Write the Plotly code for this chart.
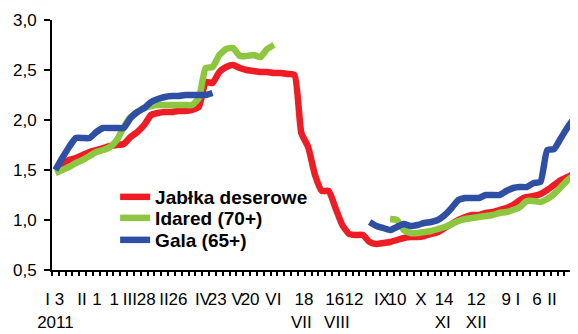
import plotly.graph_objects as go

# ---- data (weekly observations, index 0..76) ----
n_points = 77
jablka = [1.50, 1.56, 1.60, 1.62, 1.65, 1.68, 1.70, 1.72, 1.74, 1.75,
          1.76, 1.83, 1.88, 1.95, 2.05, 2.07, 2.08, 2.08, 2.09, 2.09,
          2.10, 2.13, 2.38, 2.37, 2.48, 2.53, 2.55, 2.52, 2.50, 2.49,
          2.48, 2.48, 2.47, 2.47, 2.46, 2.45, 1.87, 1.73, 1.45, 1.29,
          1.29, 1.12, 0.95, 0.86, 0.85, 0.85, 0.78, 0.76, 0.77, 0.78,
          0.80, 0.82, 0.83, 0.83, 0.84, 0.86, 0.88, 0.92, 0.96, 1.00,
          1.03, 1.05, 1.05, 1.07, 1.08, 1.10, 1.12, 1.15, 1.20, 1.23,
          1.24, 1.26, 1.30, 1.35, 1.40, 1.43, 1.47]
idared = [1.47, 1.50, 1.53, 1.57, 1.60, 1.64, 1.68, 1.70, 1.73, 1.80,
          1.93, 2.03, 2.08, 2.12, 2.14, 2.15, 2.15, 2.15, 2.15, 2.15,
          2.15, 2.22, 2.52, 2.53, 2.65, 2.71, 2.72, 2.64, 2.64, 2.65,
          2.63, 2.71, 2.75, None, None, None, None, None, None, None,
          None, None, None, None, None, None, None, None, None, 1.01,
          1.00, 0.90, 0.87, 0.87, 0.88, 0.89, 0.91, 0.93, 0.96, 0.99,
          1.01, 1.02, 1.03, 1.04, 1.05, 1.07, 1.08, 1.10, 1.13, 1.19,
          1.19, 1.18, 1.21, 1.26, 1.33, 1.40, 1.45]
gala = [1.50, 1.62, 1.73, 1.82, 1.82, 1.82, 1.88, 1.92, 1.92, 1.92,
        1.92, 2.02, 2.08, 2.12, 2.18, 2.21, 2.23, 2.24, 2.24, 2.25,
        2.25, 2.25, 2.25, 2.27, None, None, None, None, None, None,
        None, None, None, None, None, None, None, None, None, None,
        None, None, None, None, None, None, 0.98, 0.94, 0.92, 0.90,
        0.93, 0.96, 0.94, 0.95, 0.97, 0.98, 1.00, 1.05, 1.12, 1.20,
        1.22, 1.22, 1.22, 1.25, 1.25, 1.25, 1.29, 1.32, 1.33, 1.33,
        1.37, 1.38, 1.70, 1.71, 1.82, 1.93, 2.02]

series_names = ["Jabłka deserowe", "Idared (70+)", "Gala (65+)"]

# tick labels (two rows, as they appear under the axis)
row1_pos = [-0.1, 3.9, 6.1, 8.6, 10.9, 13.3, 15.9, 17.95, 21.6, 23.7,
            26.6, 28.5, 31.9, 36.4, 40.9, 43.7, 47.8, 50.0, 53.5, 56.9,
            61.6, 66.0, 67.7, 70.5, 72.7]
row1_text = ["I 3", "II", "1", "1", "III", "28", "II", "26", "IV", "23",
             "V", "20", "VI", "18", "16", "12", "IX", "10", "X", "14",
             "12", "9", "I", "6", "II"]
row2_pos = [0.0, 36.0, 41.2, 56.7, 61.6]
row2_text = ["2011", "VII", "VIII", "XI", "XII"]

y_ticks = [0.5, 1.0, 1.5, 2.0, 2.5, 3.0]

colors = ["#EE1D25", "#8DC63F", "#2E4FA3"]
legend_ids = ["legend", "legend2", "legend3"]

x = list(range(n_points))
fig = go.Figure()
for name, vals, col, lg in zip(series_names, [jablka, idared, gala], colors, legend_ids):
    fig.add_trace(go.Scatter(
        x=x, y=vals, name=name, mode="lines", legend=lg,
        line=dict(color=col, width=6.5, shape="spline", smoothing=0.5),
        connectgaps=False,
    ))

# invisible helpers so the label axes are drawn
fig.add_trace(go.Scatter(x=[0], y=[None], xaxis="x2", showlegend=False, hoverinfo="skip"))
fig.add_trace(go.Scatter(x=[0], y=[None], xaxis="x3", showlegend=False, hoverinfo="skip"))

xr = [-0.5, n_points - 0.5]
font_family = "Liberation Sans, Arial, sans-serif"


def legend_box(ypos):
    return dict(
        x=0.12, y=ypos, xanchor="left", yanchor="middle",
        bgcolor="rgba(0,0,0,0)", borderwidth=0,
        font=dict(family=font_family, size=19, color="black", weight="bold"),
        itemwidth=30,
    )


fig.update_layout(
    width=570, height=326,
    margin=dict(l=44, r=0, t=12, b=64),
    paper_bgcolor="white", plot_bgcolor="white",
    separators=", ",
    font=dict(family=font_family, size=17, color="black"),
    showlegend=True,
    legend=legend_box(0.292),
    legend2=legend_box(0.208),
    legend3=legend_box(0.12),
    xaxis=dict(
        range=xr, showgrid=False, zeroline=False, automargin=False,
        showline=True, linecolor="black", linewidth=2,
        ticks="outside", ticklen=4, tickwidth=1.5, tickcolor="black",
        tickmode="linear", tick0=-0.5, dtick=1,
        showticklabels=False,
    ),
    xaxis2=dict(
        range=xr, overlaying="x", side="bottom", anchor="y", automargin=False,
        showgrid=False, zeroline=False, showline=False, ticks="",
        tickmode="array", tickvals=row1_pos, ticktext=row1_text, tickangle=0,
        tickfont=dict(family=font_family, size=17, color="black"),
        ticklabelstandoff=17,
    ),
    xaxis3=dict(
        range=xr, overlaying="x", side="bottom", anchor="y", automargin=False,
        showgrid=False, zeroline=False, showline=False, ticks="",
        tickmode="array", tickvals=row2_pos, ticktext=row2_text, tickangle=0,
        tickfont=dict(family=font_family, size=17, color="black"),
        ticklabelstandoff=40,
    ),
    yaxis=dict(
        range=[0.5, 3.0], showgrid=False, zeroline=False, automargin=False,
        showline=True, linecolor="black", linewidth=2,
        ticks="outside", ticklen=6, tickwidth=1.5, tickcolor="black",
        tickmode="array", tickvals=y_ticks, tickformat=".1f",
        tickfont=dict(family=font_family, size=17, color="black"),
        ticklabelstandoff=4,
    ),
)

fig.write_html("out.html")
